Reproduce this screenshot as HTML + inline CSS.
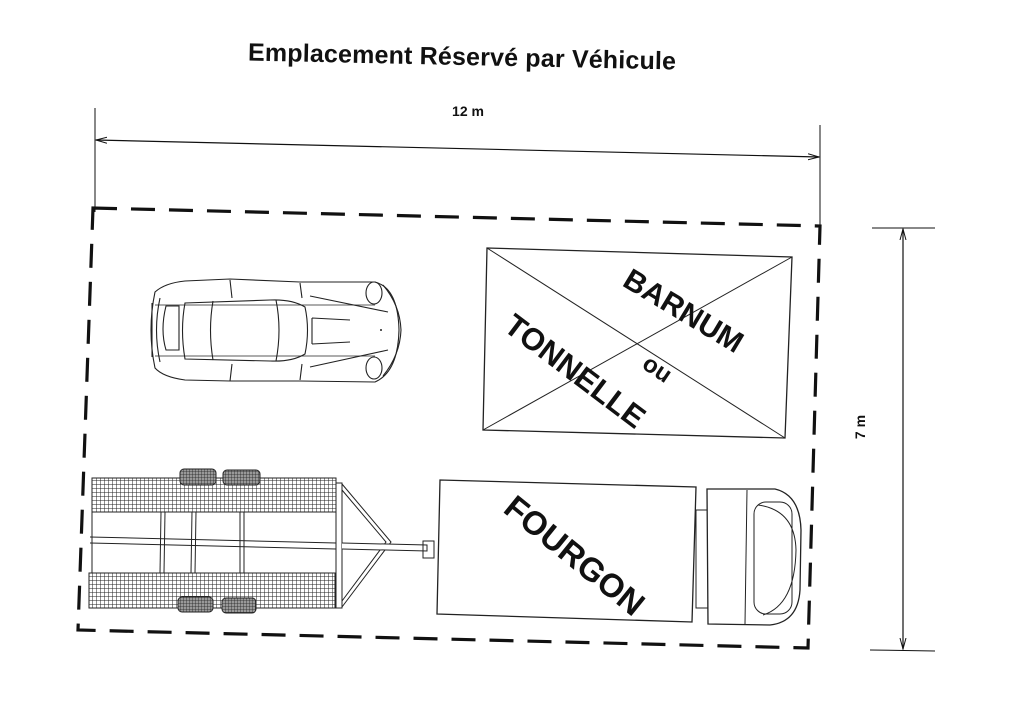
<!DOCTYPE html>
<html><head><meta charset="utf-8"><style>
html,body{margin:0;padding:0;background:#fff;}
svg{display:block;}
text{font-family:"Liberation Sans",sans-serif;font-weight:bold;fill:#111;}
</style></head><body>
<svg width="1024" height="724" viewBox="0 0 1024 724" xmlns="http://www.w3.org/2000/svg">
<defs>
<pattern id="mesh" width="4" height="4" patternUnits="userSpaceOnUse">
<rect width="4" height="4" fill="#fff"/>
<path d="M0 0H4M0 0V4" stroke="#222" stroke-width="1"/>
</pattern>
<pattern id="tire" width="3" height="3" patternUnits="userSpaceOnUse">
<rect width="3" height="3" fill="#999"/>
<path d="M0 0H3M0 0V3" stroke="#222" stroke-width="0.8"/>
</pattern>
<marker id="ar" markerWidth="12" markerHeight="8" refX="11" refY="4" orient="auto" markerUnits="userSpaceOnUse">
<path d="M0 1 L11 4 L0 7" fill="none" stroke="#111" stroke-width="1"/>
</marker>
<marker id="al" markerWidth="12" markerHeight="8" refX="1" refY="4" orient="auto" markerUnits="userSpaceOnUse">
<path d="M12 1 L1 4 L12 7" fill="none" stroke="#111" stroke-width="1"/>
</marker>
</defs>

<text x="462" y="65" font-size="25" text-anchor="middle" textLength="428" transform="rotate(1.2 462 58)">Emplacement Réservé par Véhicule</text>
<text x="468" y="116" font-size="14" text-anchor="middle">12 m</text>

<line x1="95" y1="108" x2="95" y2="212" stroke="#111" stroke-width="1"/>
<line x1="820" y1="125" x2="820" y2="228" stroke="#111" stroke-width="1"/>
<line x1="96" y1="140" x2="819" y2="157" stroke="#111" stroke-width="1.2" marker-start="url(#al)" marker-end="url(#ar)"/>

<line x1="872" y1="228" x2="935" y2="228" stroke="#111" stroke-width="1"/>
<line x1="870" y1="650" x2="935" y2="651" stroke="#111" stroke-width="1"/>
<line x1="903" y1="229" x2="903" y2="649" stroke="#111" stroke-width="1.2" marker-start="url(#al)" marker-end="url(#ar)"/>
<text x="870" y="432" font-size="14" text-anchor="middle" transform="rotate(-90 865 432)">7 m</text>

<path d="M93 208 L820 226 L808 648 L78 630 Z" fill="none" stroke="#111" stroke-width="3.2" stroke-dasharray="24 14"/>

<path d="M487 248 L792 257 L785 438 L483 430 Z" fill="none" stroke="#222" stroke-width="1.3"/>
<line x1="487" y1="248" x2="785" y2="438" stroke="#222" stroke-width="1"/>
<line x1="792" y1="257" x2="483" y2="430" stroke="#222" stroke-width="1"/>
<text x="684" y="321" font-size="30" text-anchor="middle" transform="rotate(31 684 310)">BARNUM</text>
<text x="576" y="382" font-size="31" text-anchor="middle" transform="rotate(37 576 370)">TONNELLE</text>
<text x="658" y="377" font-size="24" text-anchor="middle" transform="rotate(34 658 368)">ou</text>

<path d="M440 480 L696 487 L692 622 L437 614 Z" fill="#fff" stroke="#222" stroke-width="1.3"/>
<text x="575" y="567" font-size="33" text-anchor="middle" transform="rotate(39 575 555)">FOURGON</text>
<rect x="696" y="510" width="12" height="98" fill="none" stroke="#222" stroke-width="1"/>
<path d="M707 489 L775 489 Q800 495 801 530 L800 590 Q798 622 770 625 L708 624 Z" fill="#fff" stroke="#222" stroke-width="1.3"/>
<line x1="747" y1="490" x2="745" y2="624" stroke="#222" stroke-width="1"/>
<path d="M758 505 Q795 510 796 550 Q795 605 763 615" fill="none" stroke="#222" stroke-width="1"/>
<rect x="754" y="502" width="38" height="112" rx="12" fill="none" stroke="#222" stroke-width="1"/>

<rect x="92" y="478" width="244" height="34" fill="url(#mesh)" stroke="#222" stroke-width="1"/>
<rect x="89" y="573" width="246" height="35" fill="url(#mesh)" stroke="#222" stroke-width="1"/>
<line x1="92" y1="512" x2="92" y2="573" stroke="#222"/>
<line x1="90" y1="537" x2="336" y2="543" stroke="#222"/>
<line x1="90" y1="543" x2="336" y2="549" stroke="#222"/>
<line x1="161" y1="512" x2="160" y2="573" stroke="#222"/>
<line x1="165" y1="512" x2="164" y2="573" stroke="#222"/>
<line x1="192" y1="512" x2="191" y2="573" stroke="#222"/>
<line x1="196" y1="512" x2="195" y2="573" stroke="#222"/>
<line x1="240" y1="512" x2="240" y2="573" stroke="#222"/>
<line x1="244" y1="512" x2="244" y2="573" stroke="#222"/>
<rect x="336" y="483" width="6" height="125" fill="#fff" stroke="#222"/>
<path d="M342 484 L391 542 L342 607" fill="none" stroke="#222" stroke-width="1"/>
<path d="M342 490 L386 542 L342 601" fill="none" stroke="#222" stroke-width="1"/>
<path d="M342 543 L427 545 L427 551 L342 549" fill="#fff" stroke="#222"/>
<rect x="423" y="541" width="11" height="17" fill="none" stroke="#222"/>
<rect x="180" y="469" width="36" height="16" rx="4" fill="url(#tire)" stroke="#222"/>
<rect x="223" y="470" width="37" height="15" rx="4" fill="url(#tire)" stroke="#222"/>
<rect x="178" y="597" width="35" height="15" rx="4" fill="url(#tire)" stroke="#222"/>
<rect x="222" y="598" width="34" height="15" rx="4" fill="url(#tire)" stroke="#222"/>

<g fill="none" stroke="#222" stroke-width="1.1">
<path d="M155 292 Q165 283 185 281 L230 279 L300 282 L375 282 Q398 288 399 330 Q398 372 375 382 L300 381 L230 381 L185 380 Q163 377 155 368 Q147 330 155 292 Z"/>
<path d="M160 298 Q153 330 160 362"/>
<path d="M152 303 L152 357"/>
<path d="M155 305 L375 305 M155 356 L375 356" stroke-width="0.8"/>
<path d="M185 303 Q180 330 185 359 L270 361 Q292 362 305 354 Q310 330 305 307 Q292 299 270 300 Z"/>
<path d="M213 301 Q208 330 213 360 M276 300 Q282 330 276 361"/>
<path d="M310 296 L388 312 M310 367 L388 350"/>
<path d="M312 318 L350 320 M312 344 L350 342 M312 318 L312 344"/>
<path d="M166 306 Q160 330 166 350 L179 350 L179 306 Z"/>
<path d="M230 280 L232 298 M300 283 L302 298 M230 381 L232 364 M300 380 L302 364"/>
<ellipse cx="374" cy="293" rx="8" ry="11"/>
<ellipse cx="374" cy="368" rx="8" ry="11"/>
<path d="M383 285 Q400 305 401 330 Q400 355 383 376"/>
</g>
<circle cx="381" cy="330" r="1" fill="#222"/>
</svg>
</body></html>
